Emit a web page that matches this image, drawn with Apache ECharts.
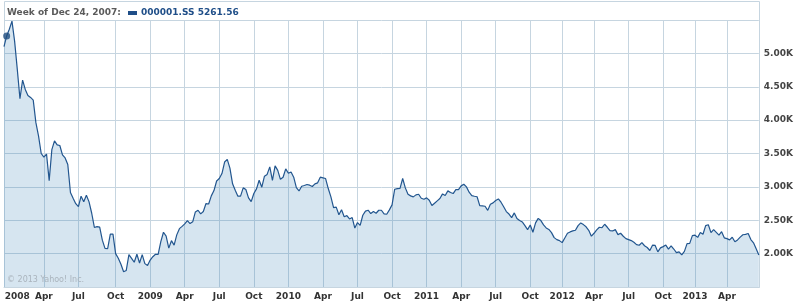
<!DOCTYPE html>
<html><head><meta charset="utf-8">
<script src="https://cdn.jsdelivr.net/npm/echarts@6/dist/echarts.min.js"></script>
<style>html,body{margin:0;padding:0;background:#fff}#c{width:796px;height:304px}</style>
</head><body><div id="c"></div>
<script>
// Weekly closes of 000001.SS (week Mondays from firstWeek; fully closed weeks absent)
const firstWeek = '2007-12-17';
const closedWeeks = ['2011-10-03','2012-01-23','2012-10-01','2013-02-11'];
const weeklyClose = [
5101,5261.56,5361,5484,5180,4761,4320,4599,4460,4370,
4340,4300,3962,3760,3500,3446,3492,3094,3557,3690,
3630,3620,3480,3433,3335,2916,2831,2748,2704,2860,
2776,2874,2775,2605,2392,2405,2397,2202,2079,2075,
2293,2293,2000,1930,1840,1728,1748,1986,1930,1871,
1990,1860,1985,1850,1821,1904,1954,1990,1990,2181,
2320,2261,2082,2194,2128,2281,2374,2408,2445,2495,
2450,2477,2625,2650,2595,2632,2750,2743,2865,2945,
3088,3125,3200,3372,3412,3280,3046,2950,2860,2861,
2985,2960,2835,2779,2900,2970,3100,2995,3160,3187,
3300,3096,3315,3247,3113,3145,3270,3205,3224,3145,
2989,2939,3010,3020,3035,3025,3005,3045,3060,3145,
3135,3125,2975,2850,2688,2696,2583,2656,2553,2569,
2520,2540,2383,2465,2424,2575,2637,2650,2600,2630,
2605,2650,2650,2595,2590,2655,2730,2965,2975,2978,
3125,2985,2888,2865,2850,2880,2890,2830,2815,2835,
2800,2720,2755,2790,2825,2895,2870,2940,2915,2900,
2960,2960,3015,3040,3000,2920,2870,2860,2852,2720,
2715,2710,2648,2740,2760,2795,2820,2770,2703,2630,
2593,2540,2610,2525,2495,2475,2420,2360,2428,2320,
2460,2528,2495,2430,2385,2362,2315,2240,2210,2195,
2165,2235,2305,2325,2340,2350,2420,2460,2435,2402,
2350,2262,2305,2355,2395,2388,2440,2395,2345,2340,
2360,2285,2305,2260,2225,2210,2195,2170,2135,2125,
2165,2118,2092,2047,2127,2123,2026,2086,2105,2128,
2068,2117,2069,2014,2026,1980,2033,2150,2153,2269,
2276,2243,2317,2291,2419,2432,2314,2359,2319,2278,
2328,2237,2225,2206,2245,2177,2205,2247,2283,2288,
2301,2211,2162,2073,1979
];
const tickWeeks = ['2008-03-31','2008-06-30','2008-10-06','2009-01-05','2009-04-06','2009-07-06','2009-10-05','2010-01-04','2010-04-05','2010-07-05','2010-10-04','2011-01-03','2011-04-04','2011-07-04','2011-10-10','2012-01-02','2012-04-02','2012-07-02','2012-10-08','2012-12-31','2013-04-01'];
const tickLabels = ['Apr','Jul','Oct','2009','Apr','Jul','Oct','2010','Apr','Jul','Oct','2011','Apr','Jul','Oct','2012','Apr','Jul','Oct','2013','Apr'];
const firstLabelWeek = '2008-01-21';
const firstLabel = '2008';
const yTicks = {min:1500, max:5500, step:500};
const seriesName = '000001.SS';
const headerDate = 'Week of Dec 24, 2007:';
const highlightIndex = 1;

function buildWeeks(n){
  const out=[]; let t = Date.parse(firstWeek+'T00:00:00Z');
  while(out.length<n){
    const s = new Date(t).toISOString().slice(0,10);
    if(closedWeeks.indexOf(s)<0) out.push(s);
    t += 7*86400000;
  }
  return out;
}
const weeks = buildWeeks(weeklyClose.length);
const labelMap = {}; tickWeeks.forEach((w,i)=>labelMap[w]=tickLabels[i]);
labelMap[firstLabelWeek] = firstLabel;

const FONT = 'DejaVu Sans';
const GRID = '#c6d5e0';
const chart = echarts.init(document.getElementById('c'));
chart.setOption({
  animation:false,
  grid:{left:4,right:37,top:20,bottom:17,containLabel:false},
  xAxis:{
    type:'category', data:weeks, boundaryGap:false,
    axisLine:{show:true,lineStyle:{color:GRID,width:1}},
    axisTick:{show:false},
    splitLine:{show:true,interval:(i,v)=>tickWeeks.indexOf(v)>=0,lineStyle:{color:GRID,width:1}},
    axisLabel:{interval:(i,v)=>labelMap[v]!==undefined, formatter:v=>labelMap[v]||'',
      color:'#333',fontFamily:FONT,fontWeight:'bold',fontSize:9,margin:5}
  },
  yAxis:{
    type:'value', position:'right', min:yTicks.min, max:yTicks.max, interval:yTicks.step,
    axisLine:{show:true,lineStyle:{color:GRID}},
    axisTick:{show:false},
    splitLine:{show:true,lineStyle:{color:GRID,width:1}},
    axisLabel:{showMinLabel:false,showMaxLabel:false,formatter:v=>(v/1000).toFixed(2)+'K',
      color:'#444',fontFamily:FONT,fontWeight:'bold',fontSize:9,margin:5}
  },
  series:[
    {type:'line',name:seriesName,data:weeklyClose,symbol:'none',smooth:false,
     lineStyle:{color:'#22568f',width:1.2},
     areaStyle:{color:'rgba(52,123,180,0.2)',opacity:1,origin:'start'}},
    {type:'scatter',data:[[highlightIndex,weeklyClose[highlightIndex]]],symbol:'circle',symbolSize:7,
     itemStyle:{color:'#1f4e7f'},z:5}
  ],
  graphic:[
    {type:'rect',shape:{x:4.5,y:1.5,width:755,height:286},style:{fill:'none',stroke:GRID,lineWidth:1},z:-1,silent:true},
    {type:'text',x:7,y:13,style:{text:headerDate,fill:'#5a5a5a',font:'bold 9px "DejaVu Sans"',textVerticalAlign:'middle'}},
    {type:'rect',shape:{x:128,y:11,width:9,height:4},style:{fill:'#1f4e88'}},
    {type:'text',x:141,y:13,style:{text:seriesName+' '+weeklyClose[highlightIndex].toFixed(2),fill:'#1f4e88',font:'bold 9px "DejaVu Sans"',textVerticalAlign:'middle'}},
    {type:'text',x:7,y:280,style:{text:'© 2013 Yahoo! Inc.',fill:'#aab4bd',font:'8px "DejaVu Sans"',textVerticalAlign:'middle'},z:10}
  ]
});
</script></body></html>
